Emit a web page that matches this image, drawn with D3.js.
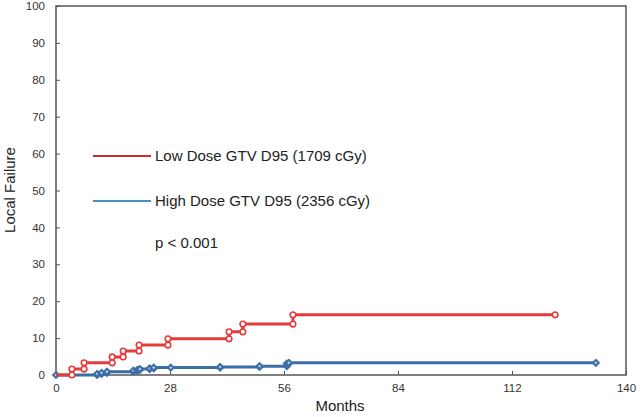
<!DOCTYPE html>
<html><head><meta charset="utf-8">
<script src="https://cdn.jsdelivr.net/npm/d3@7"></script>
<style>body{margin:0;background:#fff;}svg{display:block;font-family:"Liberation Sans",Arial,sans-serif;}</style>
</head><body>
<svg id="c" width="640" height="417"></svg>
<script>
// Data
const lowTimes  = [0, 3.9, 6.9, 13.8, 16.5, 20.4, 27.5, 42.5, 45.9, 58.2, 122.6];
const lowValues = [0, 1.6, 3.3, 4.9, 6.5, 8.1, 9.8, 11.7, 13.8, 16.3, 16.3];
const highTimes  = [0, 10.1, 11.2, 12.5, 19.0, 20.0, 20.6, 23.0, 24.0, 28.2, 40.3, 50.0, 56.7, 57.2, 132.6];
const highValues = [0, 0.3, 0.6, 0.9, 1.2, 1.4, 1.6, 1.8, 2.0, 2.0, 2.2, 2.4, 3.1, 3.3, 3.3];
const xTicks = [0, 28, 56, 84, 112, 140];
const yTicks = [0, 10, 20, 30, 40, 50, 60, 70, 80, 90, 100];
const legendLabels = ["Low Dose GTV D95 (1709 cGy)", "High Dose GTV D95 (2356 cGy)"];
const pText = "p < 0.001";

const svg = d3.select("#c");
const L = 56, R = 626, T = 6, B = 375;
const x = d3.scaleLinear().domain([0, 140]).range([L, R]);
const y = d3.scaleLinear().domain([0, 100]).range([B, T]);

// frame
svg.append("rect").attr("x", L).attr("y", T).attr("width", R - L).attr("height", B - T)
  .attr("fill", "none").attr("stroke", "#555").attr("stroke-width", 1.5);

// axes
const yAx = svg.append("g").attr("transform", `translate(${L},0)`)
  .call(d3.axisLeft(y).tickValues(yTicks).tickSizeInner(-4).tickSizeOuter(0).tickPadding(11));
const xAx = svg.append("g").attr("transform", `translate(0,${B})`)
  .call(d3.axisBottom(x).tickValues(xTicks).tickSizeInner(-4).tickSizeOuter(0).tickPadding(9));
[yAx, xAx].forEach(g => {
  g.select(".domain").remove();
  g.selectAll("line").attr("stroke", "#555");
  g.selectAll("text").attr("font-size", 11.5).attr("fill", "#333").attr("font-family", "Liberation Sans, Arial, sans-serif");
});

// titles
svg.append("text").attr("x", 340).attr("y", 411).attr("text-anchor", "middle")
  .attr("font-size", 15).attr("fill", "#222").text("Months");
svg.append("text").attr("transform", "translate(15,190) rotate(-90)").attr("text-anchor", "middle")
  .attr("font-size", 15).attr("fill", "#222").text("Local Failure");

function stepPts(ts, vs) {
  const pts = [];
  for (let i = 0; i < ts.length; i++) {
    if (i > 0 && vs[i] !== vs[i - 1]) pts.push([ts[i], vs[i - 1]]);
    pts.push([ts[i], vs[i]]);
  }
  return pts;
}
const line = d3.line().x(d => x(d[0])).y(d => y(d[1]));

const redC = "#e63b3b", blueC = "#3b6ea6";

// high dose (blue)
const hp = stepPts(highTimes, highValues);
svg.append("path").attr("d", line(hp)).attr("fill", "none").attr("stroke", blueC).attr("stroke-width", 3);
svg.append("g").selectAll("path").data(hp).join("path")
  .attr("d", d3.symbol(d3.symbolDiamond2, 22)())
  .attr("transform", d => `translate(${x(d[0])},${y(d[1])})`)
  .attr("fill", "#bcd3ea").attr("stroke", blueC).attr("stroke-width", 2);

// low dose (red)
const lp = stepPts(lowTimes, lowValues);
svg.append("path").attr("d", line(lp)).attr("fill", "none").attr("stroke", redC).attr("stroke-width", 3);
svg.append("g").selectAll("circle").data(lp.slice(1)).join("circle")
  .attr("cx", d => x(d[0])).attr("cy", d => y(d[1])).attr("r", 2.8)
  .attr("fill", "#fff").attr("stroke", redC).attr("stroke-width", 1.6);

// legend
const legCols = ["#c9302c", "#4a8fc7"];
const legY = [156, 201];
legendLabels.forEach((t, i) => {
  svg.append("line").attr("x1", 93).attr("x2", 151).attr("y1", legY[i]).attr("y2", legY[i])
    .attr("stroke", legCols[i]).attr("stroke-width", 2.2);
  svg.append("text").attr("x", 155).attr("y", legY[i] + 5).attr("font-size", 15).attr("fill", "#222").text(t);
});
svg.append("text").attr("x", 155).attr("y", 248).attr("font-size", 15).attr("fill", "#222").text(pText);
</script>
</body></html>
